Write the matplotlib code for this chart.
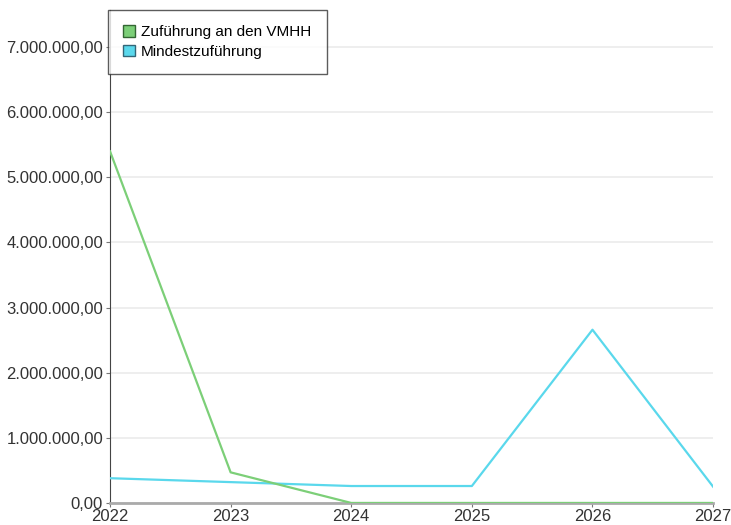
import numpy as np
import matplotlib
matplotlib.use("Agg")
import matplotlib.pyplot as plt
from matplotlib.patches import Patch
from matplotlib.ticker import FuncFormatter

plt.rcParams['font.family'] = ['Liberation Sans', 'DejaVu Sans']

years = [2022, 2023, 2024, 2025, 2026, 2027]
zufuehrung = [5400000, 470000, 0, 0, 0, 0]
mindest = [380000, 320000, 260000, 260000, 2660000, 250000]

green = '#7ccf78'
cyan = '#5ad8ec'


def de_fmt(v, pos):
    s = f"{v:,.2f}"
    return s.replace(',', 'X').replace('.', ',').replace('X', '.')


fig = plt.figure(figsize=(7.31, 5.25), dpi=100)
ax = fig.add_axes([0.1505, 0.042, 0.825, 0.939])

ax.plot(years, mindest, color=cyan, lw=1.6, zorder=3)
ax.plot(years, zufuehrung, color=green, lw=1.6, zorder=4)

ax.set_xlim(2022, 2027)
ax.set_ylim(0, 7570000)
ax.set_yticks(np.arange(0, 7000001, 1000000))
ax.yaxis.set_major_formatter(FuncFormatter(de_fmt))
ax.set_xticks(years)

ax.grid(axis='y', color='#ebebeb', lw=1.2)
ax.set_axisbelow(True)
for s in ['top', 'right']:
    ax.spines[s].set_visible(False)
ax.spines['left'].set_color('#444444')
ax.spines['left'].set_linewidth(0.8)
ax.spines['bottom'].set_color('#aaaaaa')
ax.spines['bottom'].set_linewidth(2)
ax.tick_params(axis='y', length=3, color='#777777', labelsize=12, labelcolor='#333333', pad=2)
ax.tick_params(axis='x', length=3, color='#777777', labelsize=12, labelcolor='#333333', pad=1)

handles = [Patch(facecolor=green, edgecolor='#336633', label='Zuführung an den VMHH'),
           Patch(facecolor=cyan, edgecolor='#336677', label='Mindestzuführung')]
leg = ax.legend(handles=handles, loc='upper left', bbox_to_anchor=(-0.004, 1.0),
                borderaxespad=0, frameon=True, fancybox=False, fontsize=11,
                handlelength=0.8, handleheight=0.8, handletextpad=0.4,
                borderpad=1.0, labelspacing=0.35)
leg.get_frame().set_edgecolor('#333333')
leg.get_frame().set_linewidth(1)
leg.set_zorder(10)

fig.savefig('out.png', dpi=100)
